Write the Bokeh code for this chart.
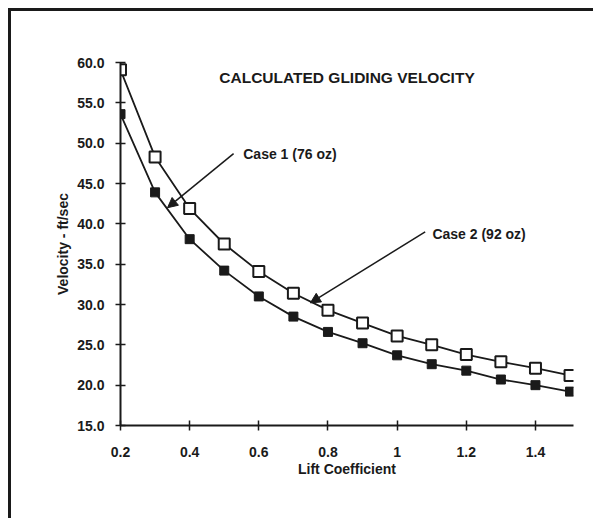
from bokeh.plotting import figure
from bokeh.models import Range1d, FixedTicker, Label, Arrow, NormalHead, NumeralTickFormatter
from bokeh.embed import file_html
from bokeh.resources import INLINE

# Data
lift_coefficient = [0.2, 0.3, 0.4, 0.5, 0.6, 0.7, 0.8, 0.9, 1.0, 1.1, 1.2, 1.3, 1.4, 1.5]
case1_velocity = [53.6, 43.9, 38.1, 34.2, 31.0, 28.5, 26.6, 25.2, 23.7, 22.6, 21.8, 20.7, 20.0, 19.2]
case2_velocity = [59.1, 48.3, 41.9, 37.5, 34.1, 31.4, 29.3, 27.7, 26.1, 25.0, 23.8, 22.9, 22.1, 21.2]
x_ticks = [0.2, 0.4, 0.6, 0.8, 1.0, 1.2, 1.4]
x_tick_labels = ["0.2", "0.4", "0.6", "0.8", "1", "1.2", "1.4"]
y_ticks = [15, 20, 25, 30, 35, 40, 45, 50, 55, 60]

INK = "#1a1a1a"
FONT = "Liberation Sans"

p = figure(width=585, height=510, output_backend="svg", toolbar_location=None,
           x_range=Range1d(0.2, 1.51), y_range=Range1d(15, 60),
           min_border_left=109, min_border_top=51, min_border_bottom=96, min_border_right=23)
p.styles = {"border-top": f"3px solid {INK}", "border-left": f"3px solid {INK}",
            "margin-top": "8px", "margin-left": "8px"}
p.outline_line_color = None
p.xgrid.visible = False
p.ygrid.visible = False

for ax in (p.xaxis[0], p.yaxis[0]):
    ax.axis_line_color = INK
    ax.axis_line_width = 2
    ax.major_tick_line_color = INK
    ax.major_tick_line_width = 1.5
    ax.major_tick_in = 5
    ax.major_tick_out = 5
    ax.minor_tick_line_color = None
    ax.major_label_text_font = FONT
    ax.major_label_text_font_style = "bold"
    ax.major_label_text_font_size = "14px"
    ax.major_label_text_color = INK
    ax.axis_label_text_font = FONT
    ax.axis_label_text_font_style = "bold"
    ax.axis_label_text_font_size = "14px"
    ax.axis_label_text_color = INK

p.xaxis.ticker = FixedTicker(ticks=x_ticks)
p.xaxis.major_label_overrides = {t: l for t, l in zip(x_ticks, x_tick_labels)}
p.xaxis.axis_label = "Lift Coefficient"
p.xaxis.major_label_standoff = 16
p.xaxis.axis_label_standoff = 1

p.yaxis.ticker = FixedTicker(ticks=y_ticks)
p.yaxis.formatter = NumeralTickFormatter(format="0.0")
p.yaxis.axis_label = "Velocity - ft/sec"
p.yaxis.major_label_standoff = 11
p.yaxis.axis_label_standoff = 3

# Series
p.line(lift_coefficient, case1_velocity, line_color=INK, line_width=1.8)
p.scatter(lift_coefficient, case1_velocity, marker="square", size=9,
          fill_color=INK, line_color=INK, line_width=1)
p.line(lift_coefficient, case2_velocity, line_color=INK, line_width=1.8)
p.scatter(lift_coefficient, case2_velocity, marker="square", size=11,
          fill_color="white", line_color=INK, line_width=2)

# Title and annotations
p.add_layout(Label(x=0.855, y=58.2, text="CALCULATED GLIDING VELOCITY",
                   text_font=FONT, text_font_style="bold", text_font_size="15.5px",
                   text_color=INK, text_align="center", text_baseline="middle"))
p.add_layout(Label(x=0.555, y=48.7, text="Case 1 (76 oz)",
                   text_font=FONT, text_font_style="bold", text_font_size="14px",
                   text_color=INK, text_align="left", text_baseline="middle"))
p.add_layout(Label(x=1.102, y=38.8, text="Case 2 (92 oz)",
                   text_font=FONT, text_font_style="bold", text_font_size="14px",
                   text_color=INK, text_align="left", text_baseline="middle"))
p.add_layout(Arrow(x_start=0.527, y_start=48.7, x_end=0.336, y_end=42.0,
                   line_color=INK, line_width=1.5,
                   end=NormalHead(size=10, fill_color=INK, line_color=INK)))
p.add_layout(Arrow(x_start=1.081, y_start=39.0, x_end=0.749, y_end=30.2,
                   line_color=INK, line_width=1.5,
                   end=NormalHead(size=10, fill_color=INK, line_color=INK)))

open("out.html", "w").write(file_html(p, INLINE))
